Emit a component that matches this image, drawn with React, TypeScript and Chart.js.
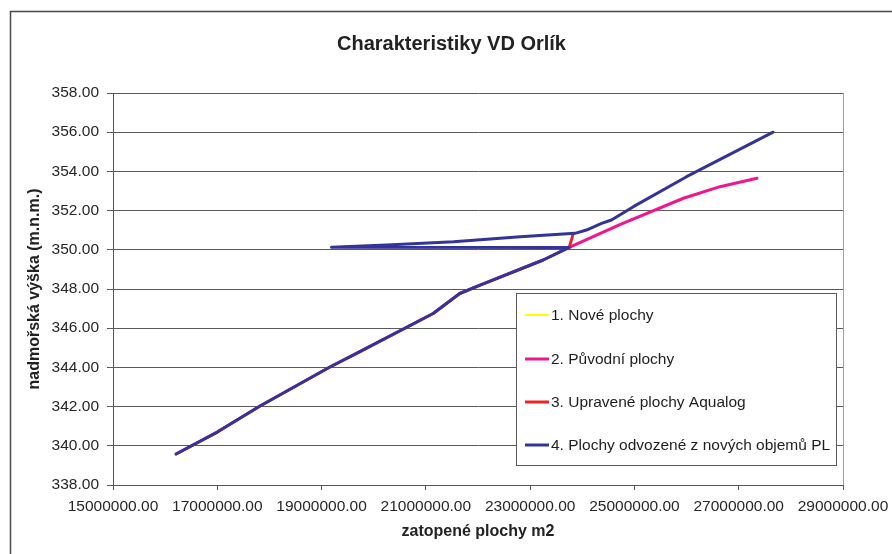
import { useEffect, useRef } from 'react';
import { Chart, registerables } from 'chart.js';

Chart.register(...registerables);

const FONT = "'Liberation Sans', Arial, Helvetica, sans-serif";

const chartTitle = 'Charakteristiky VD Orlík';
const xAxisTitle = 'zatopené plochy m2';
const yAxisTitle = 'nadmořská výška (m.n.m.)';

const seriesNames = [
  '1. Nové plochy',
  '2. Původní plochy',
  '3. Upravené plochy Aqualog',
  '4. Plochy odvozené z nových objemů PL',
];
const seriesColors = ['#FFFF00', '#F0168C', '#EE2424', '#333399'];
const seriesWidths = [2, 3, 3, 3];

const xTickValues = [15000000, 17000000, 19000000, 21000000, 23000000, 25000000, 27000000, 29000000];
const yTickValues = [338, 340, 342, 344, 346, 348, 350, 352, 354, 356, 358];

// 1. Nové plochy
const noveArea = [16210000, 17000000, 17820000, 19160000, 19680000, 21140000, 21650000, 22040000, 23250000, 23750000];
const noveLevel = [339.58, 340.7, 342.03, 344.02, 344.73, 346.75, 347.77, 348.2, 349.48, 350.12];

// 2. Původní plochy
const puvodniArea = [16210000, 17000000, 17820000, 19160000, 19680000, 21140000, 21650000, 22040000, 23250000, 23750000, 24720000, 25940000, 26640000, 27350000];
const puvodniLevel = [339.58, 340.7, 342.03, 344.02, 344.73, 346.75, 347.77, 348.2, 349.48, 350.12, 351.29, 352.63, 353.22, 353.65];

// 3. Upravené plochy Aqualog
const aqualogArea = [23750000, 23820000];
const aqualogLevel = [350.12, 350.76];

// 4. Plochy odvozené z nových objemů PL
const odvozeneArea = [16210000, 17000000, 17820000, 19160000, 19680000, 21140000, 21650000, 22040000, 23250000, 23750000, 19190000, 20250000, 21530000, 22810000, 23860000, 24080000, 24370000, 24560000, 24980000, 26000000, 27660000];
const odvozeneLevel = [339.58, 340.7, 342.03, 344.02, 344.73, 346.75, 347.77, 348.2, 349.48, 350.12, 350.13, 350.24, 350.41, 350.67, 350.84, 351.01, 351.35, 351.52, 352.2, 353.73, 356.0];

const seriesData = [
  [noveArea, noveLevel],
  [puvodniArea, puvodniLevel],
  [aqualogArea, aqualogLevel],
  [odvozeneArea, odvozeneLevel],
];

const pointsOf = (xs: number[], ys: number[]) => xs.map((x, i) => ({ x, y: ys[i] }));

// Frame, main title, plot-area border and the boxed legend inside the plot
const decorPlugin = {
  id: 'decor',
  beforeDraw(chart: any) {
    const { ctx, width, height } = chart;
    ctx.save();
    ctx.fillStyle = '#ffffff';
    ctx.fillRect(0, 0, width, height);
    ctx.strokeStyle = '#4a4a4a';
    ctx.lineWidth = 1.5;
    ctx.beginPath();
    ctx.moveTo(10.5, height + 2);
    ctx.lineTo(10.5, 11.5);
    ctx.lineTo(width + 2, 11.5);
    ctx.stroke();
    ctx.restore();
  },
  afterDraw(chart: any) {
    const { ctx, chartArea } = chart;
    ctx.save();
    // plot-area border (right side)
    ctx.strokeStyle = '#a89ea2';
    ctx.lineWidth = 1;
    ctx.beginPath();
    ctx.moveTo(chartArea.right + 0.5, chartArea.top);
    ctx.lineTo(chartArea.right + 0.5, chartArea.bottom);
    ctx.stroke();

    // title
    ctx.fillStyle = '#222222';
    ctx.font = `bold 20px ${FONT}`;
    ctx.textAlign = 'center';
    ctx.textBaseline = 'middle';
    ctx.fillText(chartTitle, 451.5, 44);

    // legend
    const lx = 516.5;
    const ly = 293.5;
    const lw = 320;
    const lh = 172;
    ctx.fillStyle = '#ffffff';
    ctx.fillRect(lx, ly, lw, lh);
    ctx.strokeStyle = '#5a5a5a';
    ctx.lineWidth = 1;
    ctx.strokeRect(lx, ly, lw, lh);
    const rowY = [315, 359, 402, 445];
    ctx.font = `15.5px ${FONT}`;
    ctx.textAlign = 'left';
    ctx.textBaseline = 'middle';
    seriesNames.forEach((name, i) => {
      ctx.strokeStyle = seriesColors[i];
      ctx.lineWidth = seriesWidths[i];
      ctx.beginPath();
      ctx.moveTo(525, rowY[i]);
      ctx.lineTo(549, rowY[i]);
      ctx.stroke();
      ctx.fillStyle = '#1e1e1e';
      ctx.fillText(name, 551, rowY[i] + 1);
    });
    ctx.restore();
  },
};

export default function App() {
  const canvasRef = useRef<HTMLCanvasElement | null>(null);

  useEffect(() => {
    const canvas = canvasRef.current;
    if (!canvas) return;

    const orders = [4, 3, 2, 1];
    const chart = new Chart(canvas, {
      type: 'scatter',
      data: {
        datasets: seriesData.map(([xs, ys], i) => ({
          label: seriesNames[i],
          data: pointsOf(xs, ys),
          showLine: true,
          borderColor: seriesColors[i],
          backgroundColor: seriesColors[i],
          borderWidth: seriesWidths[i],
          pointRadius: 0,
          pointHoverRadius: 0,
          tension: 0,
          borderJoinStyle: 'round',
          borderCapStyle: 'round',
          order: orders[i],
        })),
      },
      options: {
        responsive: false,
        animation: false,
        devicePixelRatio: 1,
        layout: { padding: { left: 10, right: 49, top: 93, bottom: 10 } },
        plugins: {
          legend: { display: false },
          title: { display: false },
          tooltip: { enabled: false },
        },
        scales: {
          x: {
            type: 'linear',
            min: 15000000,
            max: 29000000,
            afterBuildTicks: (s: any) => {
              s.ticks = xTickValues.map((value) => ({ value }));
            },
            afterFit: (s: any) => {
              s.height = 59;
              s.paddingLeft = 0;
              s.paddingRight = 0;
            },
            ticks: {
              callback: (v: any) => Number(v).toFixed(2),
              font: { family: FONT, size: 15.5 },
              color: '#262626',
              padding: 7.5,
              maxRotation: 0,
              minRotation: 0,
              autoSkip: false,
            },
            grid: {
              drawOnChartArea: false,
              drawTicks: true,
              tickLength: 5,
              color: '#555555',
            },
            border: { display: true, color: '#555555', width: 1 },
            title: {
              display: true,
              text: xAxisTitle,
              font: { family: FONT, size: 16, weight: 'bold' },
              color: '#222222',
              padding: { top: 0, bottom: 2.4 },
            },
          },
          y: {
            type: 'linear',
            min: 338,
            max: 358,
            afterBuildTicks: (s: any) => {
              s.ticks = yTickValues.map((value) => ({ value }));
            },
            afterFit: (s: any) => {
              s.width = 103;
              s.paddingTop = 0;
              s.paddingBottom = 0;
            },
            ticks: {
              callback: (v: any) => Number(v).toFixed(2),
              font: { family: FONT, size: 15.5 },
              color: '#262626',
              padding: 8,
              autoSkip: false,
            },
            grid: {
              drawOnChartArea: true,
              drawTicks: true,
              tickLength: 6,
              color: '#5a5a5a',
            },
            border: { display: true, color: '#555555', width: 1 },
            title: {
              display: true,
              text: yAxisTitle,
              font: { family: FONT, size: 16, weight: 'bold' },
              color: '#222222',
              padding: { top: 15.4, bottom: 0 },
            },
          },
        },
      } as any,
      plugins: [decorPlugin],
    });

    return () => {
      chart.destroy();
    };
  }, []);

  return (
    <div style={{ position: 'fixed', left: 0, top: 0, width: 892, height: 554, background: '#ffffff' }}>
      <canvas ref={canvasRef} width={892} height={554} style={{ display: 'block' }} />
    </div>
  );
}
